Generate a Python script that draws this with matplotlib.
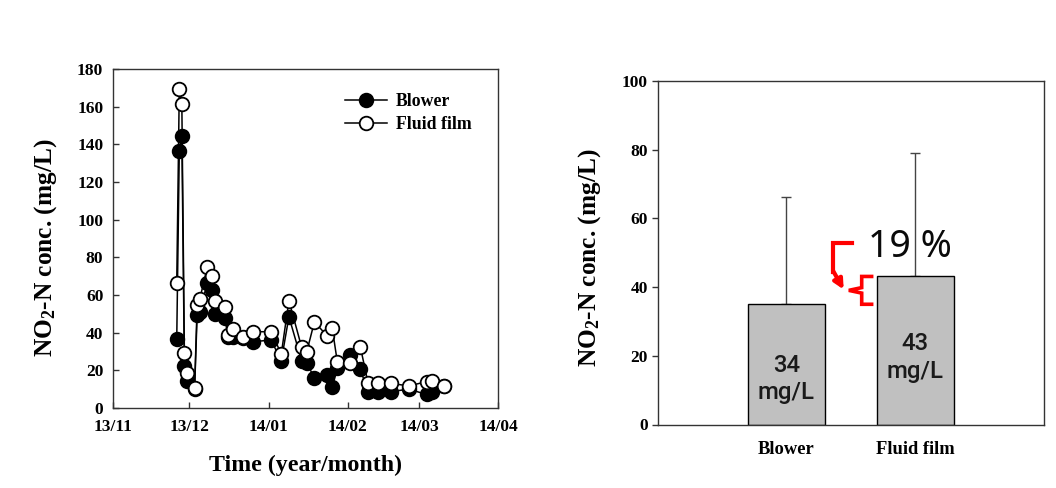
import matplotlib
matplotlib.use("Agg")
import matplotlib.pyplot as plt
import matplotlib.dates as mdates
import pandas as pd
import numpy as np

# ---------------- data ----------------
dates = ['2013-11-26', '2013-11-27', '2013-11-28', '2013-11-29', '2013-11-30',
         '2013-12-03', '2013-12-04', '2013-12-05', '2013-12-08', '2013-12-10',
         '2013-12-11', '2013-12-15', '2013-12-16', '2013-12-18', '2013-12-22',
         '2013-12-26', '2014-01-02', '2014-01-06', '2014-01-09', '2014-01-14',
         '2014-01-16', '2014-01-19', '2014-01-24', '2014-01-26', '2014-01-28',
         '2014-02-02', '2014-02-06', '2014-02-09', '2014-02-13', '2014-02-18',
         '2014-02-25', '2014-03-04', '2014-03-06', '2014-03-11']
blower = [36.5, 136.5, 144.6, 22.3, 14.5, 10.0, 49.4, 51.0, 66.5, 62.7,
          50.0, 47.6, 37.5, 37.5, 37.0, 35.2, 36.1, 25.0, 48.5, 25.0,
          23.7, 16.1, 17.5, 11.0, 21.0, 28.1, 20.5, 8.7, 8.7, 8.7,
          10.0, 7.2, 8.7, 11.7]
fluid = [66.2, 169.2, 161.3, 29.0, 18.4, 10.5, 54.7, 57.7, 74.7, 70.1,
         57.0, 53.5, 38.8, 41.8, 37.5, 40.5, 40.5, 28.7, 57.0, 32.2,
         29.9, 45.8, 38.2, 42.3, 24.3, 23.7, 32.6, 13.4, 13.4, 13.1,
         11.7, 14.0, 14.3, 11.7]
series_names = ['Blower', 'Fluid film']

bar_categories = ['Blower', 'Fluid film']
bar_means = [35.0, 43.1]
bar_err_up = [31.3, 35.8]
bar_labels = ['34\nmg/L', '43\nmg/L']
diff_label = '19 %'

x_limits = ['2013-11-01', '2014-04-01']
left_yticks = list(range(0, 181, 20))
right_yticks = list(range(0, 101, 20))

# ---------------- style ----------------
plt.rcParams['font.family'] = ['Liberation Serif', 'DejaVu Serif']
plt.rcParams['font.weight'] = 'bold'
plt.rcParams['mathtext.fontset'] = 'custom'
plt.rcParams['mathtext.rm'] = 'Liberation Serif:bold'
plt.rcParams['mathtext.bf'] = 'Liberation Serif:bold'
plt.rcParams['mathtext.it'] = 'Liberation Serif:bold'

W, H = 1056, 488
fig = plt.figure(figsize=(W / 100, H / 100), dpi=100)

def px_axes(l, t, r, b):
    return fig.add_axes([l / W, 1 - b / H, (r - l) / W, (b - t) / H])

ylabel_txt = r'NO$_{2}$-N conc. (mg/L)'
spine_col = '#333333'
tick_fs = 12.5
xlabel_fs = 17.2
ylabel_fs = 18.3

# ---------------- left: time series ----------------
ax1 = px_axes(113, 69, 498, 408)
t = pd.to_datetime(dates)
ax1.plot(t, blower, '-', color='black', lw=1.1, marker='o', ms=9.8,
         mfc='black', mec='black', mew=1.3, label=series_names[0], zorder=3)
ax1.plot(t, fluid, '-', color='black', lw=1.1, marker='o', ms=9.8,
         mfc='white', mec='black', mew=1.3, label=series_names[1], zorder=4)
ax1.set_xlim(pd.to_datetime(x_limits[0]), pd.to_datetime(x_limits[1]))
ax1.set_ylim(0, 180)
ax1.set_yticks(left_yticks)
ax1.xaxis.set_major_locator(mdates.MonthLocator())
ax1.xaxis.set_major_formatter(mdates.DateFormatter('%y/%m'))
ax1.tick_params(direction='in', length=4, width=1, labelsize=tick_fs, color=spine_col)
ax1.tick_params(axis='y', pad=7)
ax1.tick_params(axis='x', pad=8)
for s in ax1.spines.values():
    s.set_color(spine_col)
    s.set_linewidth(1.0)
ax1.set_ylabel(ylabel_txt, fontsize=ylabel_fs, fontweight='bold')
ax1.yaxis.label.set_va('center')
ax1.yaxis.set_label_coords(-0.175, 0.472)
ax1.set_xlabel('Time (year/month)', fontsize=xlabel_fs, fontweight='bold')
ax1.xaxis.label.set_va('center')
ax1.xaxis.set_label_coords(0.501, -0.168)
leg = ax1.legend(loc='upper left', bbox_to_anchor=(0.603, 0.93), frameon=False,
                 fontsize=12.8, handlelength=2.35, handletextpad=0.5,
                 labelspacing=0.38, borderpad=0, borderaxespad=0)

# ---------------- right: bar chart ----------------
ax2 = px_axes(657.5, 81, 1044, 424.5)
xpos = np.arange(1, len(bar_categories) + 1)
ax2.bar(xpos, bar_means, width=0.6, color='#c0c0c0', edgecolor='black',
        linewidth=1.0, zorder=2)
ax2.errorbar(xpos, bar_means, yerr=[np.zeros(len(bar_means)), bar_err_up],
             fmt='none', ecolor='#444444', elinewidth=1.0, capsize=3.5,
             capthick=1.0, zorder=1)
ax2.set_xlim(0, 3)
ax2.set_ylim(0, 100)
ax2.set_yticks(right_yticks)
ax2.set_xticks(xpos)
ax2.set_xticklabels(bar_categories)
ax2.tick_params(axis='y', direction='out', length=4, width=1, labelsize=tick_fs,
                pad=3, color=spine_col)
ax2.tick_params(axis='x', length=0, labelsize=13.3, pad=12)
for s in ax2.spines.values():
    s.set_color(spine_col)
    s.set_linewidth(1.0)
ax2.set_ylabel(ylabel_txt, fontsize=ylabel_fs, fontweight='bold')
ax2.yaxis.label.set_va('center')
ax2.yaxis.set_label_coords(-0.175, 0.485)

# value labels inside bars
label_heights = [13.3, 19.5]
for xi, lab, yh in zip(xpos, bar_labels, label_heights):
    ax2.text(xi, yh, lab, ha='center', va='center', fontsize=17.2,
             family=['Roboto', 'DejaVu Sans'], fontweight='medium',
             color='#1a1a1a', linespacing=1.25, zorder=5)

# percentage difference annotation
ax2.text(1.96, 51.6, diff_label, ha='center', va='center', fontsize=27,
         family=['Noto Sans', 'DejaVu Sans'], fontweight='normal',
         color='#0a0a0a', zorder=5)

red = '#ff0000'
lo, hi = bar_means[0], bar_means[1]
mid = (lo + hi) / 2
bx_in, bx_out, bx_tip = 1.585, 1.662, 1.485
# curly brace spanning the two means
ax2.plot([bx_out, bx_in, bx_in, bx_tip, bx_in, bx_in, bx_out],
         [hi, hi, mid + 0.8, mid, mid - 0.8, lo, lo],
         color=red, lw=2.6, solid_joinstyle='miter', zorder=6)
# elbow arrow from label to brace
ax2.plot([1.51, 1.362, 1.362], [52.7, 52.7, 44.5], color=red, lw=3.0,
         solid_joinstyle='miter', zorder=6)
ax2.annotate('', xy=(1.445, 39.3), xytext=(1.362, 44.8),
             arrowprops=dict(arrowstyle='-|>', color=red, lw=3.0,
                             mutation_scale=14, shrinkA=0, shrinkB=0),
             zorder=6)

fig.savefig('out.png', dpi=100)
